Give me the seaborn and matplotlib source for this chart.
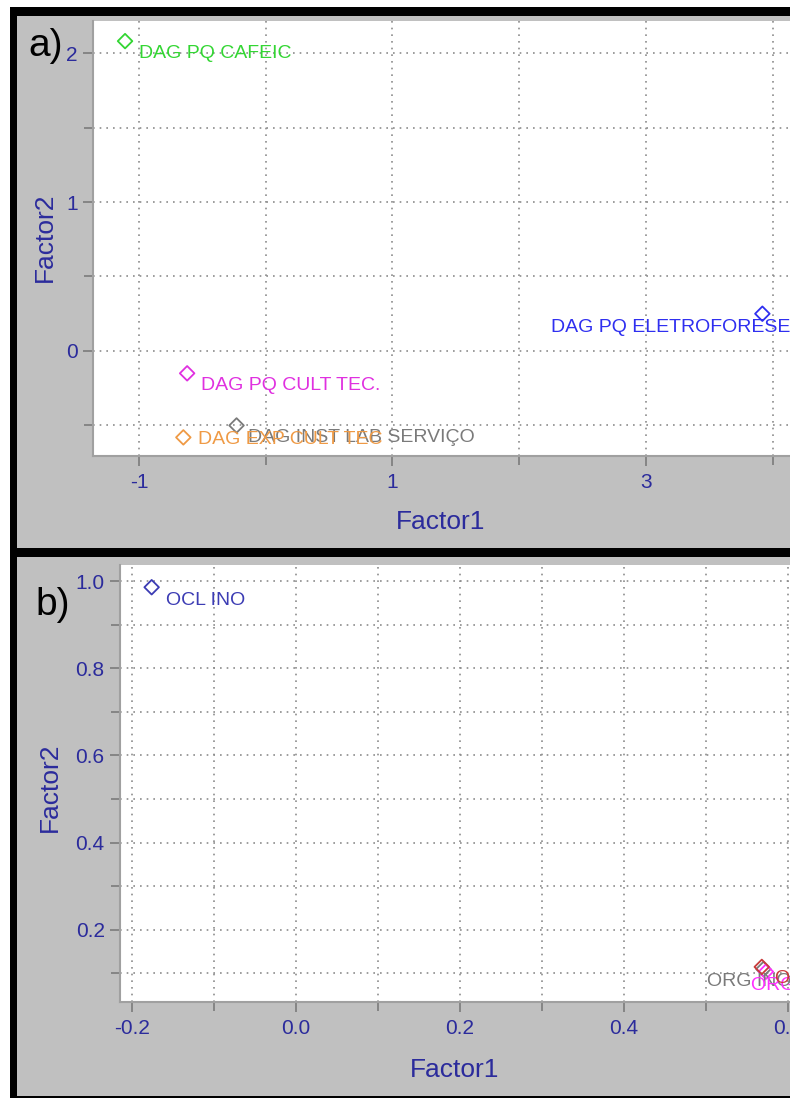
import matplotlib
matplotlib.use("Agg")
import matplotlib.pyplot as plt
from matplotlib.patches import Rectangle
from matplotlib.ticker import MultipleLocator, FormatStrFormatter
import seaborn as sns
import pandas as pd

# ---------------- data ----------------
a_labels = ["DAG PQ CAFEIC", "DAG PQ CULT TEC.", "DAG PQ ELETROFORESE",
            "DAG INST LAB SERVIÇO", "DAG EXP CULT TEC"]
a_factor1 = [-1.11, -0.62, 3.92, -0.23, -0.65]
a_factor2 = [2.08, -0.15, 0.25, -0.50, -0.58]

b_labels = ["OCL INO", "ORG INORG", "ORG INO", "ORG IND"]
b_factor1 = [-0.176, 0.570, 0.573, 0.568]
b_factor2 = [0.986, 0.110, 0.104, 0.115]

# ---------------- styles / layout ----------------
a_colors = ["#33d633", "#e030e0", "#2f2ff0", "#7a7a7a", "#ef9a45"]
b_colors = ["#3c3cb4", "#7a7a7a", "#ff30ff", "#c83c3c"]
# label offsets in pixels (dx, dy; dy positive = up)
a_offsets = [(14, -12), (14, -12), (-211, -14), (11, -12), (15, -2)]
b_offsets = [(14, -13), (-56, -12), (-15, -14), (13, -12)]

W, H = 790, 1098
DPI = 100
NAVY = "#2b2b9c"
GRAY_BG = "#c0c0c0"

sns.set_theme(style="white")
plt.rcParams["font.family"] = ["Liberation Sans", "DejaVu Sans"]

fig = plt.figure(figsize=(W / DPI, H / DPI), dpi=DPI, facecolor="white")


def fr(x0, y0, x1, y1):
    """pixel box (top-left origin) -> figure fraction rect"""
    return (x0 / W, 1 - y1 / H, (x1 - x0) / W, (y1 - y0) / H)


# black frame + gray panels
for (x0, y0, x1, y1), col in [((10, 7, 800, 1098), "black"),
                              ((17, 16, 800, 548), GRAY_BG),
                              ((17, 557, 800, 1096), GRAY_BG)]:
    l, b, w, h = fr(x0, y0, x1, y1)
    fig.add_artist(Rectangle((l, b), w, h, transform=fig.transFigure,
                             facecolor=col, edgecolor="none", zorder=0))


def style_axes(ax, xmaj, ymaj, xfmt, yfmt):
    ax.set_facecolor("white")
    ax.xaxis.set_major_locator(MultipleLocator(xmaj))
    ax.xaxis.set_minor_locator(MultipleLocator(xmaj / 2))
    ax.yaxis.set_major_locator(MultipleLocator(ymaj))
    ax.yaxis.set_minor_locator(MultipleLocator(ymaj / 2))
    ax.xaxis.set_major_formatter(FormatStrFormatter(xfmt))
    ax.yaxis.set_major_formatter(FormatStrFormatter(yfmt))
    ax.tick_params(which="both", direction="out", color="#808080", width=1.3,
                   bottom=True, left=True, top=False, right=False)
    ax.tick_params(which="major", length=7.5, labelsize=15, labelcolor=NAVY, pad=5)
    ax.tick_params(which="minor", length=6.5)
    ax.tick_params(axis="y", which="major", pad=3.5)
    ax.grid(True, which="both", linestyle=(0, (1, 3)), color="#8c8c8c", linewidth=1.2)
    for s in ["top", "right"]:
        ax.spines[s].set_visible(False)
    for s in ["left", "bottom"]:
        ax.spines[s].set_color("#a0a0a0")
        ax.spines[s].set_linewidth(1.5)


def draw_points(ax, xs, ys, labels, colors, offsets):
    df = pd.DataFrame({"Factor1": xs, "Factor2": ys, "label": labels})
    sns.scatterplot(data=df, x="Factor1", y="Factor2", hue="label",
                    palette=dict(zip(labels, colors)), marker="D", s=55,
                    linewidth=1.3, legend=False, ax=ax, zorder=3)
    coll = ax.collections[-1]
    fcs = coll.get_facecolors()
    coll.set_edgecolors(fcs)
    coll.set_facecolors("none")
    for x, y, lab, col, (dx, dy) in zip(xs, ys, labels, colors, offsets):
        ax.annotate(lab, (x, y), xytext=(dx, dy), textcoords="offset pixels",
                    ha="left", va="center", fontsize=14, color=col,
                    annotation_clip=False, zorder=4)


# ---------------- panel a ----------------
ax1 = fig.add_axes(fr(93, 21, 800, 456))
style_axes(ax1, 2, 1, "%d", "%d")
ax1.set_xticks([-1, 1, 3])
ax1.xaxis.set_minor_locator(MultipleLocator(1))
draw_points(ax1, a_factor1, a_factor2, a_labels, a_colors, a_offsets)
ax1.set_xlim(-1.363, 4.217)
ax1.set_ylim(-0.705, 2.215)
ax1.set_xlabel("Factor1", fontsize=19, color=NAVY)
ax1.set_ylabel("Factor2", fontsize=19, color=NAVY)
ax1.xaxis.label.set_va("center")
ax1.yaxis.label.set_va("center")
ax1.xaxis.set_label_coords(0.491, -0.152)
ax1.yaxis.set_label_coords(-0.068, 0.503)
fig.text(28 / W, 1 - 46 / H, "a)", fontsize=28, color="black",
         ha="left", va="center")

# ---------------- panel b ----------------
ax2 = fig.add_axes(fr(120, 565, 800, 1002))
style_axes(ax2, 0.2, 0.2, "%.1f", "%.1f")
draw_points(ax2, b_factor1, b_factor2, b_labels, b_colors, b_offsets)
ax2.set_xlim(-0.2146, 0.6146)
ax2.set_ylim(0.0345, 1.037)
ax2.set_xlabel("Factor1", fontsize=19, color=NAVY)
ax2.set_ylabel("Factor2", fontsize=19, color=NAVY)
ax2.xaxis.label.set_va("center")
ax2.yaxis.label.set_va("center")
ax2.xaxis.set_label_coords(0.4926, -0.156)
ax2.yaxis.set_label_coords(-0.103, 0.492)
fig.text(35 / W, 1 - 605 / H, "b)", fontsize=28, color="black",
         ha="left", va="center")

fig.savefig("out.png", dpi=DPI, facecolor="white")
